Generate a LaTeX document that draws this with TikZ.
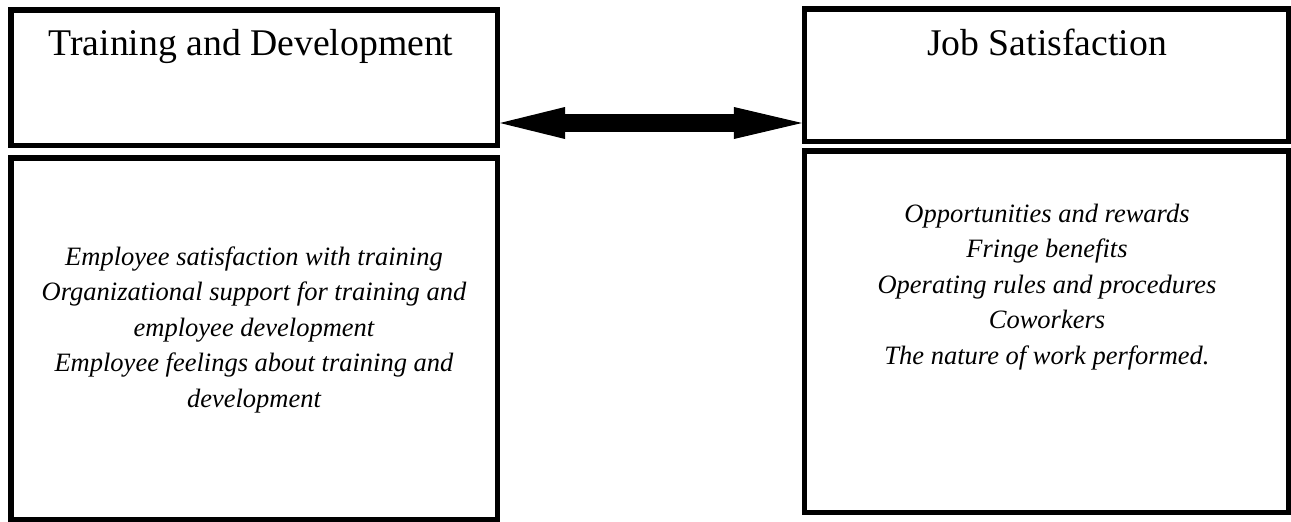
\documentclass[tikz,border=0pt]{standalone}
\usepackage{fontspec}
\setmainfont{Liberation Serif}
\usetikzlibrary{arrows.meta}
\begin{document}
\begin{tikzpicture}[x=1pt,y=-1pt,
  box/.style={draw, line width=5.5pt, inner sep=0pt},
  title/.style={font=\fontsize{37.7}{44}\selectfont, anchor=base, inner sep=0pt},
  items/.style={font=\fontsize{26.5}{35.5}\selectfont\itshape, align=center, anchor=base, inner sep=0pt},
  bigarrow/.style={line width=18pt, {Triangle[length=65pt,width=32pt,line width=0pt]}-{Triangle[length=68pt,width=32pt,line width=0pt]}}]
\useasboundingbox (0,0) rectangle (1291,522);
\node[box, minimum width=486.5pt, minimum height=135.5pt] (lt) at (254,77.5) {};
\node[box, minimum width=486.5pt, minimum height=361.5pt] (lb) at (254,338.5) {};
\node[box, minimum width=483.75pt, minimum height=132.5pt] (rt) at (1046.6,75) {};
\node[box, minimum width=483.75pt, minimum height=361.5pt] (rb) at (1046.6,331.5) {};
\node[title] (ltt) at (251,55) {Training and Development};
\node[title] (rtt) at (1047,55) {Job Satisfaction};
\node[items] (lbt) at (254,407) {Employee satisfaction with training\\Organizational support for training and\\employee development\\Employee feelings about training and\\development};
\node[items] (rbt) at (1047,364) {Opportunities and rewards\\Fringe benefits\\Operating rules and procedures\\Coworkers\\The nature of work performed.};
\coordinate (ay) at (0,123);
\draw[bigarrow] (lt.east |- ay) -- (rt.west |- ay);
\end{tikzpicture}
\end{document}
